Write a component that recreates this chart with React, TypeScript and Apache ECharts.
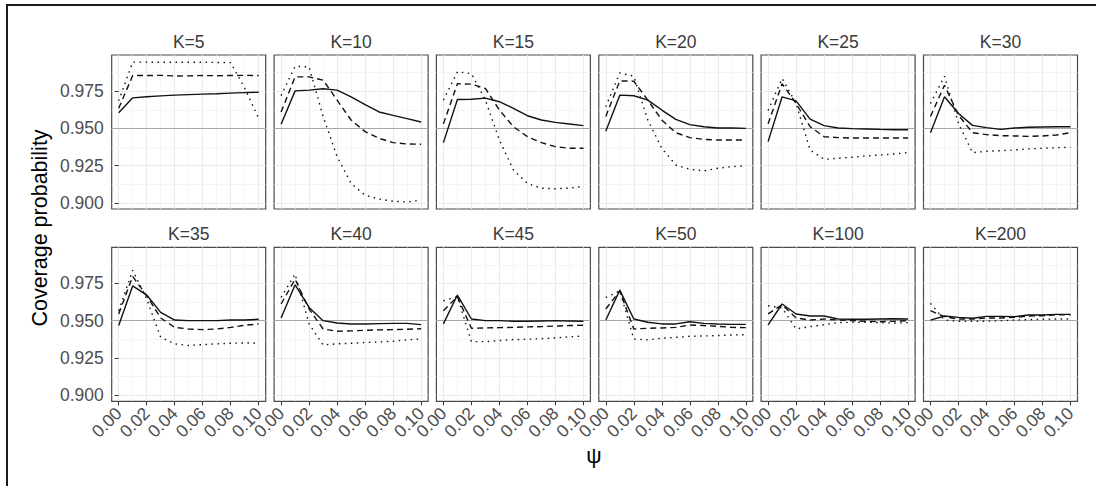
import React, { useEffect, useRef } from 'react';
import * as echarts from 'echarts';

// psi values (x axis)
const psi = [0, 0.01, 0.02, 0.03, 0.04, 0.05, 0.06, 0.07, 0.08, 0.09, 0.1];
const xTickValues = [0, 0.02, 0.04, 0.06, 0.08, 0.1];
const yTickValues = [0.9, 0.925, 0.95, 0.975];
const panelLabels = ['K=5', 'K=10', 'K=15', 'K=20', 'K=25', 'K=30', 'K=35', 'K=40', 'K=45', 'K=50', 'K=100', 'K=200'];

// coverage probabilities: solid / dashed / dotted
const solid5 = [0.9605, 0.9705, 0.9712, 0.9718, 0.9723, 0.9727, 0.973, 0.9733, 0.9737, 0.974, 0.9743];
const dashed5 = [0.9635, 0.9855, 0.9855, 0.9856, 0.9852, 0.9853, 0.9855, 0.9854, 0.9855, 0.9856, 0.9855];
const dotted5 = [0.9685, 0.9945, 0.9945, 0.9944, 0.9944, 0.9944, 0.9944, 0.9943, 0.9942, 0.977, 0.9567];

const solid10 = [0.9527, 0.9752, 0.9757, 0.9766, 0.9757, 0.9712, 0.966, 0.961, 0.9587, 0.9565, 0.9543];
const dashed10 = [0.961, 0.9846, 0.9846, 0.9824, 0.969, 0.9556, 0.9478, 0.9433, 0.9404, 0.9395, 0.9393];
const dotted10 = [0.972, 0.9917, 0.9913, 0.958, 0.931, 0.913, 0.905, 0.9025, 0.901, 0.9005, 0.9018];

const solid15 = [0.9404, 0.9694, 0.9696, 0.9703, 0.9679, 0.9634, 0.9585, 0.9556, 0.954, 0.9529, 0.9518];
const dashed15 = [0.953, 0.98, 0.9797, 0.9768, 0.9623, 0.9511, 0.9444, 0.9404, 0.9377, 0.9366, 0.9366];
const dotted15 = [0.969, 0.988, 0.9868, 0.969, 0.9422, 0.922, 0.913, 0.9098, 0.9094, 0.9098, 0.911];

const solid20 = [0.948, 0.9723, 0.9719, 0.969, 0.9623, 0.956, 0.9525, 0.9511, 0.9502, 0.9502, 0.95];
const dashed20 = [0.958, 0.9819, 0.9817, 0.969, 0.9556, 0.9471, 0.9438, 0.9426, 0.9422, 0.9422, 0.9422];
const dotted20 = [0.9645, 0.9873, 0.985, 0.9556, 0.9366, 0.9254, 0.9225, 0.9214, 0.9232, 0.9243, 0.9248];

const solid25 = [0.9411, 0.9712, 0.9685, 0.9562, 0.9518, 0.9502, 0.9498, 0.9496, 0.9493, 0.9491, 0.9491];
const dashed25 = [0.953, 0.98, 0.9667, 0.9511, 0.9444, 0.9438, 0.9435, 0.9435, 0.9435, 0.9435, 0.9435];
const dotted25 = [0.962, 0.9835, 0.9667, 0.9355, 0.9292, 0.9299, 0.9306, 0.9315, 0.9321, 0.9328, 0.9337];

const solid30 = [0.9471, 0.9712, 0.96, 0.952, 0.9505, 0.9493, 0.9502, 0.9507, 0.9509, 0.9511, 0.9511];
const dashed30 = [0.958, 0.979, 0.9589, 0.9471, 0.9458, 0.9451, 0.9449, 0.9446, 0.9449, 0.9455, 0.9471];
const dotted30 = [0.9667, 0.985, 0.9533, 0.9337, 0.9346, 0.935, 0.9355, 0.9362, 0.9366, 0.937, 0.9373];

const solid35 = [0.9467, 0.9734, 0.9672, 0.9556, 0.9504, 0.95, 0.95, 0.95, 0.9504, 0.9504, 0.9509];
const dashed35 = [0.9545, 0.9797, 0.9667, 0.9518, 0.9455, 0.9444, 0.944, 0.9444, 0.9455, 0.9469, 0.9478];
const dotted35 = [0.9567, 0.9839, 0.9645, 0.9388, 0.9344, 0.9333, 0.9339, 0.9344, 0.9348, 0.935, 0.9348];

const solid40 = [0.9518, 0.9741, 0.9589, 0.95, 0.9484, 0.9478, 0.9478, 0.948, 0.9482, 0.9482, 0.9473];
const dashed40 = [0.9612, 0.9779, 0.9578, 0.9444, 0.9429, 0.9431, 0.9435, 0.9438, 0.944, 0.9442, 0.9446];
const dotted40 = [0.9656, 0.9813, 0.9478, 0.9337, 0.9344, 0.9348, 0.9353, 0.9357, 0.9362, 0.9371, 0.9377];

const solid45 = [0.9478, 0.9672, 0.9511, 0.95, 0.95, 0.9496, 0.9496, 0.9498, 0.95, 0.9498, 0.9496];
const dashed45 = [0.9567, 0.9661, 0.9449, 0.9451, 0.9453, 0.9455, 0.9458, 0.946, 0.9464, 0.9467, 0.9469];
const dotted45 = [0.9634, 0.9661, 0.9359, 0.9359, 0.9366, 0.9373, 0.9375, 0.9379, 0.9384, 0.9391, 0.9397];

const solid50 = [0.9504, 0.9705, 0.9511, 0.9489, 0.9478, 0.9478, 0.9493, 0.9482, 0.9478, 0.9475, 0.9475];
const dashed50 = [0.9578, 0.97, 0.9444, 0.9449, 0.9451, 0.9455, 0.9471, 0.9467, 0.9462, 0.9455, 0.9453];
const dotted50 = [0.9656, 0.97, 0.9377, 0.9371, 0.9382, 0.9388, 0.9395, 0.9397, 0.94, 0.9404, 0.9406];

const solid100 = [0.9471, 0.9612, 0.9545, 0.9531, 0.9531, 0.9511, 0.9509, 0.9509, 0.9511, 0.9513, 0.9511];
const dashed100 = [0.9545, 0.9607, 0.9518, 0.9504, 0.9511, 0.9504, 0.95, 0.9496, 0.9493, 0.9496, 0.95];
const dotted100 = [0.96, 0.9585, 0.9444, 0.946, 0.9473, 0.9487, 0.9489, 0.9489, 0.9487, 0.9484, 0.9487];

const solid200 = [0.9504, 0.9531, 0.9522, 0.9516, 0.9529, 0.9529, 0.9527, 0.9538, 0.9538, 0.9542, 0.9542];
const dashed200 = [0.9567, 0.9527, 0.9511, 0.9511, 0.9518, 0.9518, 0.9522, 0.9531, 0.9533, 0.954, 0.954];
const dotted200 = [0.9616, 0.9504, 0.9496, 0.9496, 0.9496, 0.95, 0.9504, 0.9507, 0.9509, 0.9511, 0.9511];

const solidSets = [solid5, solid10, solid15, solid20, solid25, solid30, solid35, solid40, solid45, solid50, solid100, solid200];
const dashedSets = [dashed5, dashed10, dashed15, dashed20, dashed25, dashed30, dashed35, dashed40, dashed45, dashed50, dashed100, dashed200];
const dottedSets = [dotted5, dotted10, dotted15, dotted20, dotted25, dotted30, dotted35, dotted40, dotted45, dotted50, dotted100, dotted200];

const referenceLevel = 0.95;

const X_MIN = -0.005;
const X_MAX = 0.105;
const Y_MIN = 0.8958;
const Y_MAX = 0.9993;

const FONT = '"Liberation Sans", Arial, Helvetica, sans-serif';
const TICK_FONT = 17.5;

export default function App() {
  const ref = useRef<HTMLDivElement>(null);

  useEffect(() => {
    if (!ref.current) return;
    const chart = echarts.init(ref.current, undefined, { renderer: 'svg' });

    const grids: any[] = [];
    const xAxes: any[] = [];
    const yAxes: any[] = [];
    const series: any[] = [];
    const graphics: any[] = [];

    const PW = 154;
    const PH = 154;
    const lefts = [111.7, 274.1, 436.4, 598.8, 761.1, 923.5];
    const tops = [55, 247.3];

    panelLabels.forEach((label, i) => {
      const row = Math.floor(i / 6);
      const col = i % 6;
      const left = lefts[col];
      const top = tops[row];
      grids.push({
        left, top, width: PW, height: PH,
        show: true, borderColor: '#4a4a4a', borderWidth: 1.2, backgroundColor: '#fff',
      });
      xAxes.push({
        type: 'value', gridIndex: i, min: X_MIN, max: X_MAX,
        minInterval: 0.02, maxInterval: 0.02,
        axisLine: { show: false },
        axisTick: { show: row === 1, length: 4, customValues: xTickValues, lineStyle: { color: '#333', width: 1 } },
        axisLabel: {
          show: row === 1, customValues: xTickValues, rotate: 45, margin: 9,
          formatter: (v: number) => v.toFixed(2),
          fontSize: TICK_FONT, color: '#4d4d4d', fontFamily: FONT,
          showMinLabel: true, showMaxLabel: true,
        },
        splitLine: { show: true, lineStyle: { color: '#ebebeb', width: 1.1 } },
        minorTick: { show: false, splitNumber: 2 },
        minorSplitLine: { show: true, lineStyle: { color: '#f0f0f0', width: 0.7 } },
      });
      yAxes.push({
        type: 'value', gridIndex: i, min: Y_MIN, max: Y_MAX,
        minInterval: 0.025, maxInterval: 0.025,
        axisLine: { show: false },
        axisTick: { show: col === 0, length: 4, customValues: yTickValues, lineStyle: { color: '#333', width: 1 } },
        axisLabel: {
          show: col === 0, customValues: yTickValues, margin: 8,
          formatter: (v: number) => v.toFixed(3),
          fontSize: TICK_FONT, color: '#4d4d4d', fontFamily: FONT,
        },
        splitLine: { show: true, lineStyle: { color: '#ebebeb', width: 1.1 } },
        minorTick: { show: false, splitNumber: 2 },
        minorSplitLine: { show: true, lineStyle: { color: '#f0f0f0', width: 0.7 } },
      });

      const mk = (vals: number[], type: any, withRef: boolean) => {
        const s: any = {
          type: 'line', xAxisIndex: i, yAxisIndex: i,
          data: psi.map((x, j) => [x, vals[j]]),
          showSymbol: false, symbol: 'none', silent: true, z: 3,
          lineStyle: { color: '#111', width: 1.4, type, cap: 'butt' },
        };
        if (withRef) {
          s.markLine = {
            silent: true, symbol: ['none', 'none'], z: 2,
            label: { show: false },
            lineStyle: { color: '#a6a6a6', width: 1.2, type: 'solid' },
            data: [{ yAxis: referenceLevel }],
          };
        }
        return s;
      };
      series.push(mk(solidSets[i], 'solid', true));
      series.push(mk(dashedSets[i], [6, 4], false));
      series.push(mk(dottedSets[i], [1.5, 4.5], false));

      graphics.push({
        type: 'text', x: left + PW / 2, y: top - 13.5,
        style: {
          text: label, align: 'center', verticalAlign: 'middle',
          textAlign: 'center', textVerticalAlign: 'middle',
          fontSize: TICK_FONT, fill: '#3a3a3a', fontFamily: FONT,
        },
      });
    });

    graphics.push({
      type: 'text', x: 40, y: 228, rotation: Math.PI / 2,
      style: {
        text: 'Coverage probability', align: 'center', verticalAlign: 'middle',
        textAlign: 'center', textVerticalAlign: 'middle',
        fontSize: 21.5, fill: '#000', fontFamily: FONT,
      },
    });
    graphics.push({
      type: 'text', x: 594, y: 456,
      style: {
        text: 'ψ', align: 'center', verticalAlign: 'middle',
        textAlign: 'center', textVerticalAlign: 'middle',
        fontSize: 21.5, fill: '#000', fontFamily: FONT,
      },
    });
    graphics.push({
      type: 'line', shape: { x1: 6, y1: 5, x2: 1096, y2: 5 },
      style: { stroke: '#1a1a1a', lineWidth: 2 },
    });
    graphics.push({
      type: 'line', shape: { x1: 7, y1: 4, x2: 7, y2: 486 },
      style: { stroke: '#1a1a1a', lineWidth: 2 },
    });

    chart.setOption({
      animation: false,
      backgroundColor: '#ffffff',
      grid: grids,
      xAxis: xAxes,
      yAxis: yAxes,
      series,
      graphic: graphics,
    });

    return () => chart.dispose();
  }, []);

  return (
    <div
      ref={ref}
      style={{ position: 'fixed', left: 0, top: 0, width: 1096, height: 486 }}
    />
  );
}
